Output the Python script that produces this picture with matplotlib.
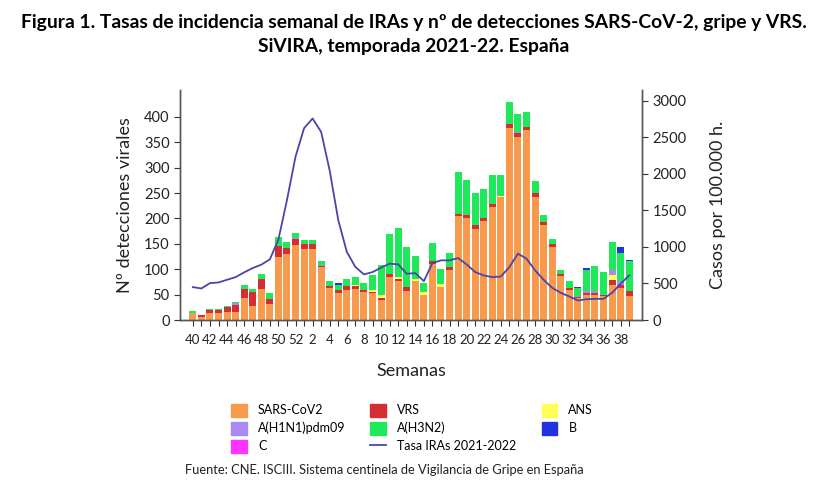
"""
    Figura 1. Tasas de incidencia semanal de IRAs y deteccciones virales.
    SiVIRA, temporada 2021-22.
"""

# .----------------------------------------------------------------------------.
# Import libraries to use.

import numpy as np              # Arrays for the stacked bars.
import matplotlib
matplotlib.use("Agg")
import matplotlib.pyplot as plt # Plotting.
from matplotlib.patches import Patch
from matplotlib.lines import Line2D

# .----------------------------------------------------------------------------.
# Data (weeks 40-52 of 2021, then 1-39 of 2022).

weeks = list(range(40, 53)) + list(range(1, 40))

sars = [13, 7, 13, 13, 15, 16, 43, 28, 62, 32, 125, 131, 147, 140, 140, 104,
        64, 53, 60, 62, 55, 53, 40, 84, 76, 58, 76, 50, 110, 66, 99, 204,
        201, 179, 196, 222, 242, 378, 361, 374, 243, 188, 144, 87, 59, 43,
        50, 50, 48, 70, 64, 48]
vrs = [1, 2, 7, 7, 10, 14, 18, 28, 18, 10, 21, 10, 12, 9, 9, 3,
       3, 6, 8, 5, 4, 3, 4, 7, 5, 7, 0, 0, 6, 0, 5, 5,
       5, 9, 5, 6, 0, 7, 7, 7, 8, 5, 5, 3, 4, 2,
       3, 4, 2, 8, 5, 10]
ans = [0, 0, 0, 0, 0, 0, 0, 0, 0, 0, 0, 0, 0, 0, 0, 0,
       0, 1, 0, 2, 0, 3, 5, 0, 3, 0, 4, 5, 0, 5, 0, 0,
       0, 0, 0, 0, 2, 0, 0, 0, 0, 0, 0, 0, 0, 0,
       0, 0, 0, 11, 0, 0]
h1n1 = [0, 0, 0, 0, 0, 3, 0, 0, 0, 0, 0, 0, 2, 0, 0, 2,
        0, 0, 0, 0, 0, 0, 0, 0, 0, 0, 0, 0, 0, 0, 0, 0,
        0, 0, 0, 0, 0, 0, 2, 0, 0, 0, 0, 0, 0, 2,
        4, 4, 0, 10, 7, 0]
h3n2 = [3, 1.5, 2, 2, 3, 2, 9, 6, 10, 12, 18, 12, 11, 8, 8, 8,
        9, 9, 12, 16, 13, 30, 60, 78, 97, 78, 47, 18, 36, 29, 28, 82,
        69, 62, 57, 58, 41, 45, 36, 28, 22, 13, 10, 8, 13, 16,
        42, 49, 45, 54, 57, 58]
gripe_b = [0, 0, 0, 0, 0, 0, 0, 0, 0, 0, 0, 0, 0, 0, 0, 0,
           0, 4, 0, 0, 0, 0, 0, 0, 0, 0, 0, 0, 0, 0, 0, 0,
           0, 0, 0, 0, 0, 0, 0, 0, 0, 0, 0, 0, 0, 3,
           3, 0, 0, 0, 11, 2]
gripe_c = [0] * 52

# Tasa IRAs 2021-2022 (casos por 100.000 h.)
tasa = [450, 432, 505, 514, 551, 587, 652, 711, 757, 830, 1100, 1640, 2233,
        2622, 2755, 2570, 2040, 1365, 930, 725, 624, 656, 716, 771, 761, 633,
        642, 532, 779, 816, 816, 848, 761, 656, 610, 587, 595, 725, 908, 839,
        679, 551, 441, 373, 322, 267, 285, 290, 290, 373, 497, 610]

# .----------------------------------------------------------------------------.

def main():
    plt.rcParams['font.family'] = ['Lato', 'DejaVu Sans']

    fig = plt.figure(figsize=(8.28, 4.97), dpi=100)
    ax = fig.add_axes([0.2174, 0.356, 0.5580, 0.463])

    x = np.arange(len(weeks))

    # Stacked bars, bottom to top.
    series = [
        (sars, '#f79a4d'),
        (vrs, '#d42d34'),
        (ans, '#ffff55'),
        (h1n1, '#a98bf0'),
        (h3n2, '#1fe85a'),
        (gripe_b, '#2233dd'),
        (gripe_c, '#ff33ff'),
    ]
    bottom = np.zeros(len(weeks))
    for values, color in series:
        values = np.array(values, dtype=float)
        ax.bar(x, values, bottom=bottom, width=0.82, color=color,
               edgecolor='none', zorder=2)
        bottom = bottom + values

    ax.set_xlim(-1.5, len(weeks) - 0.5 + 1.0)
    ax.set_ylim(0, 453)
    ax.set_yticks(range(0, 401, 50))
    ax.set_xticks(x)
    ax.set_xticklabels([str(w) if w % 2 == 0 else '' for w in weeks])
    ax.tick_params(axis='x', length=4, pad=6, labelsize=9.5, colors='#333333',
                   labelcolor='#222222')
    ax.tick_params(axis='y', length=4, labelsize=10.5, colors='#333333',
                   labelcolor='#222222')
    ax.set_ylabel('Nº detecciones virales', fontsize=13, color='#222222',
                  labelpad=8)
    ax.set_xlabel('Semanas', fontsize=13, color='#222222', labelpad=12)

    # Rate line on the right axis.
    ax2 = ax.twinx()
    ax2.plot(x, tasa, color='#4b45a8', linewidth=1.3, zorder=3)
    ax2.set_ylim(0, 3145)
    ax2.set_yticks(range(0, 3001, 500))
    ax2.tick_params(axis='y', length=4, labelsize=10.5, colors='#333333',
                    labelcolor='#222222')
    ax2.set_ylabel('Casos por 100.000 h.', fontsize=13, color='#222222',
                   labelpad=17)

    for a in (ax, ax2):
        a.spines['top'].set_visible(False)
        for side in ('left', 'right', 'bottom'):
            a.spines[side].set_color('#555555')
            a.spines[side].set_linewidth(1.0)

    # Title and source.
    fig.text(0.5, 0.955, 'Figura 1. Tasas de incidencia semanal de IRAs y nº de '
             'detecciones SARS-CoV-2, gripe y VRS.', ha='center', va='center',
             fontsize=13.9, fontweight='bold')
    fig.text(0.5, 0.907, 'SiVIRA, temporada 2021-22. España', ha='center',
             va='center', fontsize=13.9, fontweight='bold')
    fig.text(0.224, 0.054, 'Fuente: CNE. ISCIII. Sistema centinela de '
             'Vigilancia de Gripe en España', ha='left', va='center',
             fontsize=9.3, color='#222222')

    # Legend, filled column by column.
    handles = [
        Patch(color='#f79a4d', label='SARS-CoV2'),
        Patch(color='#a98bf0', label='A(H1N1)pdm09'),
        Patch(color='#ff33ff', label='C'),
        Patch(color='#d42d34', label='VRS'),
        Patch(color='#1fe85a', label='A(H3N2)'),
        Line2D([0], [0], color='#4b45a8', linewidth=1.3,
               label='Tasa IRAs 2021-2022'),
        Patch(color='#ffff55', label='ANS'),
        Patch(color='#2233dd', label='B'),
    ]
    fig.legend(handles=handles, ncol=3, loc='upper left',
               bbox_to_anchor=(0.273, 0.198), frameon=False, fontsize=9,
               handlelength=1.25, handleheight=1.25, handletextpad=0.9,
               columnspacing=2.0, labelspacing=0.38, borderaxespad=0)

    fig.savefig('out.png', dpi=100)

# .----------------------------------------------------------------------------.

if __name__ == '__main__':
    main()
